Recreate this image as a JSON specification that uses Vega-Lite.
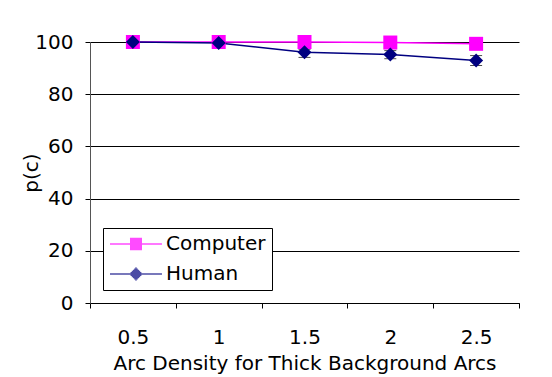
{
  "$schema": "https://vega.github.io/schema/vega-lite/v6.json",
  "width": 429,
  "height": 261,
  "autosize": "none",
  "padding": {"left": 90, "top": 42, "right": 33, "bottom": 74},
  "background": "white",
  "resolve": {"scale": {"color": "independent", "shape": "independent"}},
  "data": {"values": [
    {"density": "0.5", "series": "Computer", "pc": 100, "lo": null, "hi": null},
    {"density": "1", "series": "Computer", "pc": 100, "lo": null, "hi": null},
    {"density": "1.5", "series": "Computer", "pc": 100, "lo": 99.5, "hi": 100.5},
    {"density": "2", "series": "Computer", "pc": 99.8, "lo": 99.4, "hi": 100.2},
    {"density": "2.5", "series": "Computer", "pc": 99.3, "lo": null, "hi": null},
    {"density": "0.5", "series": "Human", "pc": 100, "lo": null, "hi": null},
    {"density": "1", "series": "Human", "pc": 99.6, "lo": 99.3, "hi": 99.9},
    {"density": "1.5", "series": "Human", "pc": 96.1, "lo": 94.1, "hi": 97.2},
    {"density": "2", "series": "Human", "pc": 95.2, "lo": 93.6, "hi": 96.7},
    {"density": "2.5", "series": "Human", "pc": 92.9, "lo": 91.0, "hi": 94.8}
  ]},
  "encoding": {
    "x": {
      "field": "density", "type": "ordinal", "sort": null,
      "scale": {"type": "band", "paddingInner": 0, "paddingOuter": 0},
      "axis": {"title": "Arc Density for Thick Background Arcs", "labelAngle": 0, "tickBand": "extent", "labelPadding": 19, "titlePadding": 6, "grid": false}
    }
  },
  "layer": [
    {
      "mark": {"type": "line", "strokeWidth": 1.5},
      "encoding": {
        "y": {"field": "pc", "type": "quantitative", "scale": {"domain": [0, 100]},
          "axis": {"title": "p(c)", "values": [0, 20, 40, 60, 80, 100], "grid": true, "gridColor": "black", "gridOpacity": 1, "labelPadding": 12, "titlePadding": -7, "domainColor": "#555555"}},
        "color": {"field": "series", "type": "nominal", "scale": {"domain": ["Computer", "Human"], "range": ["#FF00FF", "#000080"]}, "legend": null}
      }
    },
    {
      "transform": [{"filter": "datum.lo != null"}],
      "mark": {"type": "rule", "color": "black", "strokeWidth": 1},
      "encoding": {"y": {"field": "lo", "type": "quantitative"}, "y2": {"field": "hi"}}
    },
    {
      "transform": [{"filter": "datum.lo != null"}],
      "mark": {"type": "tick", "color": "black", "size": 12, "thickness": 1},
      "encoding": {"y": {"field": "lo", "type": "quantitative"}}
    },
    {
      "transform": [{"filter": "datum.hi != null"}],
      "mark": {"type": "tick", "color": "black", "size": 12, "thickness": 1},
      "encoding": {"y": {"field": "hi", "type": "quantitative"}}
    },
    {
      "transform": [{"filter": "datum.series == 'Computer'"}],
      "mark": {"type": "point", "filled": true, "shape": "square", "size": 196, "color": "#FF00FF", "opacity": 1},
      "encoding": {"y": {"field": "pc", "type": "quantitative"}}
    },
    {
      "transform": [{"filter": "datum.series == 'Human'"}],
      "mark": {"type": "point", "filled": true, "shape": "diamond", "size": 196, "color": "#000080", "opacity": 1},
      "encoding": {"y": {"field": "pc", "type": "quantitative"}}
    },
    {
      "mark": {"type": "point", "filled": false, "strokeWidth": 1.5, "clip": true, "xOffset": 3000},
      "encoding": {
        "y": {"field": "pc", "type": "quantitative"},
        "color": {"field": "series", "type": "nominal", "scale": {"domain": ["Computer", "Human"], "range": ["#FF00FF", "#000080"]}},
        "shape": {"field": "series", "type": "nominal",
          "scale": {"domain": ["Computer", "Human"], "range": [
            "M-1.5,0H7.16M1.83,-0.9H3.83M1.83,-0.7H3.83M1.83,-0.5H3.83M1.83,-0.3H3.83M1.83,-0.1H3.83M1.83,0.1H3.83M1.83,0.3H3.83M1.83,0.5H3.83M1.83,0.7H3.83M1.83,0.9H3.83",
            "M-1.5,0H7.16M2.73,-1H2.93M2.53,-0.8H3.13M2.33,-0.6H3.33M2.13,-0.4H3.53M1.93,-0.2H3.73M1.93,0.2H3.73M2.13,0.4H3.53M2.33,0.6H3.33M2.53,0.8H3.13M2.73,1H2.93"
          ]}
        }
      }
    }
  ],
  "config": {
    "view": {"stroke": null},
    "font": "DejaVu Sans",
    "axis": {"labelColor": "black", "titleColor": "black", "titleFontWeight": "normal", "labelFontSize": 20, "titleFontSize": 20, "tickColor": "black", "domainColor": "black", "tickSize": 5},
    "legend": {
      "title": null, "orient": "bottom-left", "offset": 13,
      "strokeColor": "black", "fillColor": "white", "padding": 6,
      "labelFontSize": 20, "labelColor": "black", "symbolSize": 144, "symbolStrokeWidth": 1.5,
      "labelOffset": 37, "rowPadding": 10
    }
  }
}
